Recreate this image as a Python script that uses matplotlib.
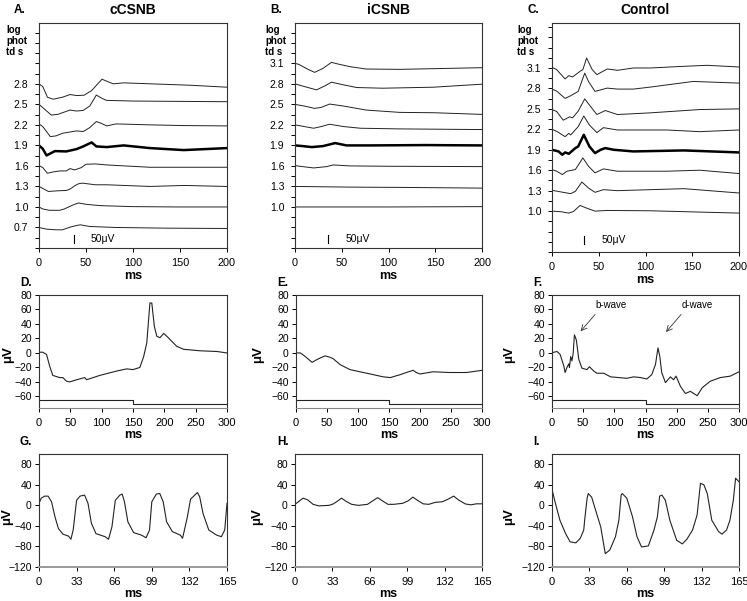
import numpy as np
import matplotlib
matplotlib.use("Agg")
import matplotlib.pyplot as plt

plt.rcParams['font.family'] = ['Liberation Sans', 'DejaVu Sans']

# ---- top row: intensity series (log phot td s) ----
A_LEVELS = [2.8, 2.5, 2.2, 1.9, 1.6, 1.3, 1.0, 0.7]
A_T = [
    [0, 4, 9, 15, 25, 33, 40, 48, 56, 67, 72, 79, 90, 120, 160, 200],
    [0, 5, 13, 20, 30, 33, 40, 47, 54, 61, 67, 72, 100, 150, 200],
    [0, 4, 12, 18, 25, 40, 47, 54, 61, 66, 72, 82, 120, 154, 200],
    [0, 4, 8, 17, 29, 40, 47, 56, 61, 72, 90, 118, 154, 200],
    [0, 4, 9, 15, 22, 29, 33, 38, 45, 50, 60, 72, 118, 160, 200],
    [0, 4, 10, 20, 29, 33, 38, 42, 46, 60, 72, 118, 154, 200],
    [0, 4, 11, 22, 27, 33, 38, 42, 50, 65, 100, 150, 200],
    [0, 8, 18, 25, 33, 40, 44, 54, 82, 135, 200],
]
A_UV = [
    [0, -16, -80, -92, -80, -64, -70, -68, -40, 28, 16, 0, 6, 0, -8, -20],
    [0, -24, -64, -60, -40, -34, -40, -36, -10, 56, 36, 24, 20, 18, 16],
    [6, -10, -70, -66, -50, -36, -40, -16, 20, 10, -6, 6, 0, -4, -6],
    [0, -20, -60, -34, -36, -22, -6, 18, -6, -10, 0, -16, -28, -16],
    [2, -10, -44, -36, -30, -30, -16, -24, -10, 10, 12, 6, -8, -8, -8],
    [0, -12, -30, -26, -24, -16, 4, 16, 20, 10, 10, 0, 6, 0],
    [0, -12, -20, -20, -12, 4, 16, 24, 16, 8, 2, 0, 0],
    [0, -10, -14, -14, 2, 12, 16, 6, 0, -4, -6],
]

B_LEVELS = [3.1, 2.8, 2.5, 2.2, 1.9, 1.6, 1.3, 1.0]
B_T = [
    [0, 4, 14, 21, 30, 39, 46, 59, 76, 112, 165, 200],
    [0, 10, 23, 32, 39, 52, 66, 94, 148, 200],
    [0, 10, 21, 28, 37, 52, 76, 112, 148, 200],
    [0, 10, 20, 28, 37, 52, 70, 112, 200],
    [0, 8, 18, 30, 43, 55, 80, 140, 200],
    [0, 8, 20, 34, 41, 59, 100, 200],
    [0, 60, 120, 200],
    [0, 100, 200],
]
B_UV = [
    [0, -6, -36, -54, -30, 6, -4, -20, -34, -36, -30, -26],
    [0, -16, -36, -12, 10, -6, -22, -26, -20, -2],
    [0, -10, -24, -18, 2, -10, -34, -48, -50, -60],
    [0, -10, -20, -10, 4, -10, -20, -24, -28],
    [0, -4, -10, -4, 14, 0, 0, 2, 0],
    [2, -4, -12, -4, 6, 0, -2, -4],
    [0, -4, -6, -10],
    [0, 0, 2],
]

C_LEVELS = [3.1, 2.8, 2.5, 2.2, 1.9, 1.6, 1.3, 1.0]
C_T = [
    [0, 5, 14, 18, 22, 30, 33, 37, 43, 48, 59, 70, 87, 105, 141, 166, 200],
    [0, 5, 14, 20, 28, 35, 39, 46, 59, 70, 87, 105, 151, 200],
    [0, 5, 12, 19, 22, 28, 35, 41, 48, 57, 70, 105, 158, 200],
    [0, 5, 14, 18, 20, 28, 34, 40, 48, 55, 70, 123, 158, 200],
    [0, 7, 11, 14, 18, 25, 28, 34, 40, 46, 52, 57, 66, 87, 141, 200],
    [0, 5, 11, 16, 25, 33, 39, 46, 55, 70, 123, 158, 200],
    [0, 8, 20, 25, 32, 39, 46, 55, 70, 141, 200],
    [0, 10, 18, 23, 30, 37, 46, 59, 105, 200],
]
C_UV = [
    [4, -10, -66, -46, -54, -20, -10, 60, -10, -40, -6, -14, 0, 0, 10, 16, 6],
    [-4, -16, -60, -44, -18, 92, 42, -18, 2, -4, -4, 8, 42, 32],
    [-4, -16, -68, -48, -54, -14, 60, 16, -34, -10, -34, -24, -4, 0],
    [0, -12, -44, -24, -34, 16, 80, 26, -20, 10, -4, -4, -14, -4],
    [0, -10, -30, -16, -24, 10, 20, 90, 20, -20, 0, 10, 0, -10, -4, -16],
    [4, -6, -26, -6, 4, 74, 24, -16, 8, -6, -6, 0, -20],
    [2, -6, -18, -4, 52, 16, -10, 6, 0, 12, -14],
    [0, -4, -12, -2, 34, 18, 0, 4, 2, -12],
]

# ---- middle row: long-flash ERG (uV) ----
D_T = [0, 6, 12, 17, 22, 33, 38, 44, 49, 60, 73, 76, 97, 124, 140, 150, 161, 167,
       172, 177, 180, 184, 188, 193, 199, 204, 212, 220, 231, 257, 284, 300]
D_UV = [1, 1, -2, -18, -31, -34, -34, -39, -40, -37, -34, -37, -31, -25, -22, -23,
        -20, -5, 14, 69, 69, 37, 23, 21, 27, 23, 16, 9, 5, 3, 2, 0]
E_T = [0, 7, 15, 26, 34, 39, 47, 55, 60, 71, 87, 114, 141, 152, 168, 178, 189, 194,
       200, 221, 248, 275, 300]
E_UV = [0, 0, -5, -13, -9, -7, -4, -6, -8, -16, -23, -28, -33, -34, -30, -27, -24,
        -27, -29, -26, -27, -27, -24]
F_T = [0, 3, 8, 13, 19, 21, 24, 27, 28, 30, 32, 34, 36, 39, 43, 48, 56, 60, 67, 72,
       83, 94, 120, 131, 142, 152, 160, 166, 170, 173, 176, 182, 190, 195, 199, 206,
       214, 222, 233, 241, 254, 270, 286, 300]
F_UV = [0, 1, 2, -2, -18, -27, -20, -15, -20, -5, -11, 0, 25, 18, -9, -21, -23, -19,
        -25, -28, -28, -33, -35, -33, -34, -36, -30, -16, 7, -5, -27, -41, -33, -37,
        -32, -46, -56, -53, -59, -48, -39, -34, -32, -26]
STIM_T = [0, 150, 150, 300]
STIM_UV = [-65, -65, -70, -70]

# ---- bottom row: 30 Hz flicker (uV) ----
G_T = [0, 2, 5, 8, 11, 14, 17, 21, 26, 28, 30, 33, 36, 40, 43, 46, 50, 58, 61, 64,
       67, 71, 73, 75, 78, 83, 90, 94, 97, 99, 103, 106, 109, 112, 117, 124, 126,
       130, 133, 139, 141, 144, 149, 156, 160, 163, 165]
G_UV = [4, 14, 18, 18, 7, -22, -45, -56, -60, -66, -48, 10, 18, 20, 4, -35, -55,
        -61, -66, -42, 10, 20, 22, 7, -32, -53, -58, -63, -48, 7, 22, 23, 7, -32,
        -51, -58, -64, -25, 12, 25, 17, -16, -48, -58, -61, -48, 4]
H_T = [0, 3, 7, 11, 16, 21, 30, 34, 38, 41, 45, 50, 56, 64, 68, 73, 77, 82, 87, 95,
       100, 104, 108, 113, 118, 124, 130, 135, 140, 144, 150, 155, 160, 165]
H_UV = [2, 7, 14, 11, 2, -1, 0, 3, 9, 14, 8, 2, 0, 2, 8, 15, 9, 2, 2, 4, 9, 16, 10,
        3, 2, 6, 7, 12, 18, 11, 3, 1, 3, 3]
I_T = [0, 3, 7, 12, 16, 21, 25, 28, 29, 31, 32, 35, 38, 43, 47, 51, 56, 59, 61, 62,
       66, 71, 75, 79, 85, 90, 93, 95, 97, 100, 104, 110, 115, 119, 124, 128, 131,
       134, 137, 141, 147, 150, 154, 157, 160, 162, 165]
I_UV = [31, 4, -29, -55, -71, -73, -64, -48, -25, 14, 23, 16, -6, -42, -94, -87,
        -61, -29, 20, 23, 14, -22, -61, -81, -79, -48, -22, 18, 20, 10, -29, -68,
        -75, -66, -48, -19, 43, 40, 23, -29, -51, -56, -48, -29, 10, 53, 46]

SCALE = 0.3 / 61.5 / 2   # level units per uV in the top row
LINE = '#222222'


def px_axes(fig, l, t, r, b):
    W, H = 747.0, 601.0
    return fig.add_axes([l / W, 1 - b / H, (r - l) / W, (b - t) / H])


def style(ax, xfs, yfs, ypad):
    for s in ax.spines.values():
        s.set_linewidth(0.8)
        s.set_color('#333333')
    ax.tick_params(direction='out', length=3.2, width=0.7)
    ax.tick_params(axis='x', labelsize=xfs, pad=4)
    ax.tick_params(axis='y', labelsize=yfs, pad=ypad)


def top_panel(ax, levels, ts, uvs, labels, ylim, bar_x, bar_y, txt_x):
    for lev, t, uv in zip(levels, ts, uvs):
        y = lev + np.array(uv) * SCALE
        if lev == 1.9:
            ax.plot(t, y, color='black', lw=1.8)
        else:
            ax.plot(t, y, color=LINE, lw=0.7)
    ax.set_xlim(0, 200)
    ax.set_ylim(*ylim)
    ticks = np.arange(0.4, ylim[1], 0.15)
    ax.set_yticks(ticks)
    lab = []
    for v in ticks:
        s = '%.1f' % v
        lab.append(s if s in labels and abs(v - round(v, 1)) < 1e-6 else '')
    ax.set_yticklabels(lab)
    ax.set_xticks([0, 50, 100, 150, 200])
    ax.plot([bar_x, bar_x], [bar_y, bar_y + 50 * SCALE], color='black', lw=0.8)
    ax.text(txt_x, bar_y + 25 * SCALE, '50μV', fontsize=7.5, va='center')
    ax.set_xlabel('ms', fontsize=9, fontweight='bold', labelpad=1.5)
    style(ax, 7.8, 7.5, 4.5)


def mid_panel(ax, t, uv, lx):
    ax.plot(t, uv, color=LINE, lw=0.8)
    ax.plot(STIM_T, STIM_UV, color=LINE, lw=0.8)
    ax.set_xlim(0, 300)
    ax.set_ylim(-76, 80)
    ax.set_yticks(range(-60, 81, 20))
    ax.set_xticks(range(0, 301, 50))
    ax.set_xlabel('ms', fontsize=9, fontweight='bold', labelpad=0.5)
    ax.set_ylabel('μV', fontsize=9.5, fontweight='bold')
    ax.yaxis.set_label_coords(lx, 0.47)
    style(ax, 8, 7.5, 2)
    ax.spines['bottom'].set_color('#888888')


def bot_panel(ax, t, uv, lx):
    ax.plot(t, uv, color=LINE, lw=0.8)
    ax.set_xlim(0, 165)
    ax.set_ylim(-120, 100)
    ax.set_yticks(range(-120, 81, 40))
    ax.set_xticks([0, 33, 66, 99, 132, 165])
    ax.set_xlabel('ms', fontsize=9, fontweight='bold', labelpad=0.5)
    ax.set_ylabel('μV', fontsize=9.5, fontweight='bold')
    ax.yaxis.set_label_coords(lx, 0.45)
    style(ax, 8, 7.5, 2)
    ax.spines['bottom'].set_color('#999999')
    ax.spines['bottom'].set_linewidth(1.4)


fig = plt.figure(figsize=(7.47, 6.01), dpi=100)

axA = px_axes(fig, 39, 23, 227, 248)
axB = px_axes(fig, 295, 23, 482, 248)
axC = px_axes(fig, 552, 23, 739, 252)
top_panel(axA, A_LEVELS, A_T, A_UV, ['0.7', '1.0', '1.3', '1.6', '1.9', '2.2', '2.5', '2.8'],
          (0.40, 3.69), 37, 0.47, 55)
top_panel(axB, B_LEVELS, B_T, B_UV, ['1.0', '1.3', '1.6', '1.9', '2.2', '2.5', '2.8', '3.1'],
          (0.40, 3.69), 35.5, 0.47, 54)
top_panel(axC, C_LEVELS, C_T, C_UV, ['1.0', '1.3', '1.6', '1.9', '2.2', '2.5', '2.8', '3.1'],
          (0.40, 3.76), 34, 0.52, 53)

axD = px_axes(fig, 39, 295, 227, 408)
axE = px_axes(fig, 296, 295, 482, 408)
axF = px_axes(fig, 552, 295, 739, 408)
mid_panel(axD, D_T, D_UV, -0.133)
mid_panel(axE, E_T, E_UV, -0.172)
mid_panel(axF, F_T, F_UV, -0.195)
for tip, txt, lab in [((43, 27), (70, 66), 'b-wave'), ((180, 26), (208, 66), 'd-wave')]:
    axF.annotate('', xy=tip, xytext=(txt[0] + 2, txt[1] - 10),
                 arrowprops=dict(arrowstyle='->', color='#333333', lw=0.6))
    axF.text(txt[0], txt[1], lab, fontsize=7, va='center')

axG = px_axes(fig, 39, 454, 227, 567)
axH = px_axes(fig, 295, 454, 482, 567)
axI = px_axes(fig, 552, 454, 739, 567)
bot_panel(axG, G_T, G_UV, -0.138)
bot_panel(axH, H_T, H_UV, -0.17)
bot_panel(axI, I_T, I_UV, -0.195)

# panel letters and titles
for x, lab in [(14, 'A.'), (270, 'B.'), (527, 'C.')]:
    fig.text(x / 747, 1 - 10 / 601, lab, fontsize=8.5, fontweight='bold', va='center')
for x, lab in [(133, 'cCSNB'), (388, 'iCSNB'), (645, 'Control')]:
    fig.text(x / 747, 1 - 10 / 601, lab, fontsize=10, fontweight='bold', va='center', ha='center')
for x, y, lab in [(20, 283, 'D.'), (277, 283, 'E.'), (533, 283, 'F.'),
                  (20, 442, 'G.'), (277, 442, 'H.'), (533, 442, 'I.')]:
    fig.text(x / 747, 1 - y / 601, lab, fontsize=8.5, fontweight='bold', va='center')
for x in [6, 265, 517]:
    fig.text(x / 747, 1 - 25 / 601, 'log\nphot\ntd s', fontsize=7, fontweight='bold',
             va='top', linespacing=1.15)

fig.savefig('out.png', dpi=100)
